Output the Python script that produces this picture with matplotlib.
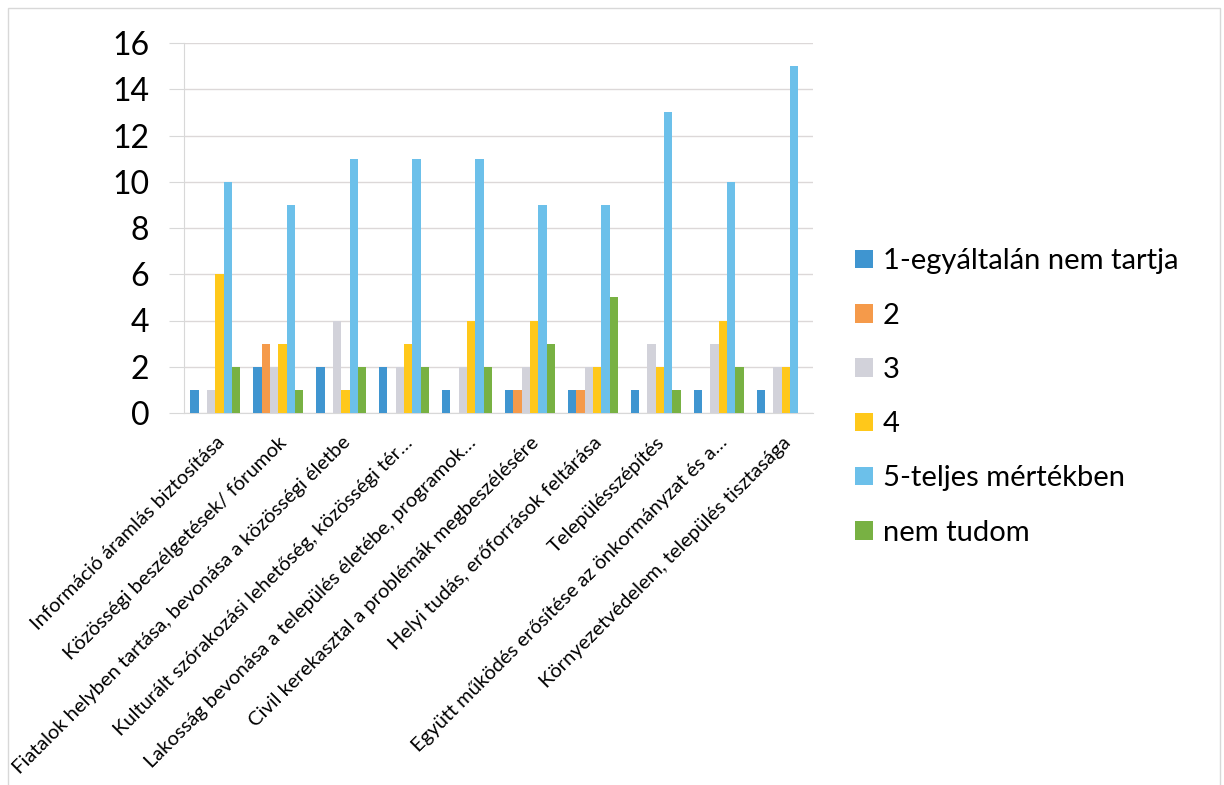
import numpy as np
import matplotlib
matplotlib.use("Agg")
import matplotlib.pyplot as plt
from matplotlib.patches import Rectangle

plt.rcParams['font.family'] = ['Lato', 'DejaVu Sans']

# DATA
categories = [
    "Információ áramlás biztosítása",
    "Közösségi beszélgetések/ fórumok",
    "Fiatalok helyben tartása, bevonása a közösségi életbe",
    "Kulturált szórakozási lehetőség, közösségi tér…",
    "Lakosság bevonása a település életébe, programok…",
    "Civil kerekasztal a problémák megbeszélésére",
    "Helyi tudás, erőforrások feltárása",
    "Településszépítés",
    "Együtt működés erősítése az önkormányzat és a…",
    "Környezetvédelem, település tisztasága",
]
series_names = ["1-egyáltalán nem tartja", "2", "3", "4", "5-teljes mértékben", "nem tudom"]
s1 = [1, 2, 2, 2, 1, 1, 1, 1, 1, 1]
s2 = [0, 3, 0, 0, 0, 1, 1, 0, 0, 0]
s3 = [1, 2, 4, 2, 2, 2, 2, 3, 3, 2]
s4 = [6, 3, 1, 3, 4, 4, 2, 2, 4, 2]
s5 = [10, 9, 11, 11, 11, 9, 9, 13, 10, 15]
s_nt = [2, 1, 2, 2, 2, 3, 5, 1, 2, 0]
yticks = [0, 2, 4, 6, 8, 10, 12, 14, 16]

colors = ["#3f95d0", "#f59a4a", "#d2d2da", "#ffc81a", "#6cc0ea", "#78b143"]
all_series = [s1, s2, s3, s4, s5, s_nt]

fig = plt.figure(figsize=(12.24, 7.85), dpi=100)
fig.patches.append(Rectangle((8 / 1224, -0.05), 1212 / 1224, 1.05 - 8 / 785,
                             transform=fig.transFigure, fill=False,
                             edgecolor="#d8d8d8", linewidth=1))
ax = fig.add_axes([184 / 1224, 1 - 413 / 785, (813 - 184) / 1224, (413 - 43) / 785])

x = np.arange(len(categories))
w = 0.1325
for i, (name, vals, c) in enumerate(zip(series_names, all_series, colors)):
    ax.bar(x + (i - 2.5) * w, vals, w, color=c, label=name, zorder=3)

ax.set_xlim(-0.5, len(categories) - 0.5)
ax.set_ylim(0, 16)
ax.set_yticks(yticks)
ax.yaxis.grid(True, color="#dcd8d8", linewidth=1, zorder=0)
ax.tick_params(axis='y', labelsize=23, length=11, color="#d8d8d8", pad=14)
ax.tick_params(axis='x', length=0, pad=15)
ax.set_xticks(x)
ax.set_xticklabels(categories, rotation=45, ha='right', va='top',
                   rotation_mode='anchor', fontsize=14.5)
for sp in ["top", "right"]:
    ax.spines[sp].set_visible(False)
for sp in ["left", "bottom"]:
    ax.spines[sp].set_color("#d8d8d8")

fig.legend(loc='center left', bbox_to_anchor=(855 / 1224, 1 - 397 / 785),
           frameon=False, fontsize=21, handlelength=0.6, handleheight=0.6,
           labelspacing=0.97, handletextpad=0.35, borderpad=0, borderaxespad=0)

fig.savefig("out.png", dpi=100)
